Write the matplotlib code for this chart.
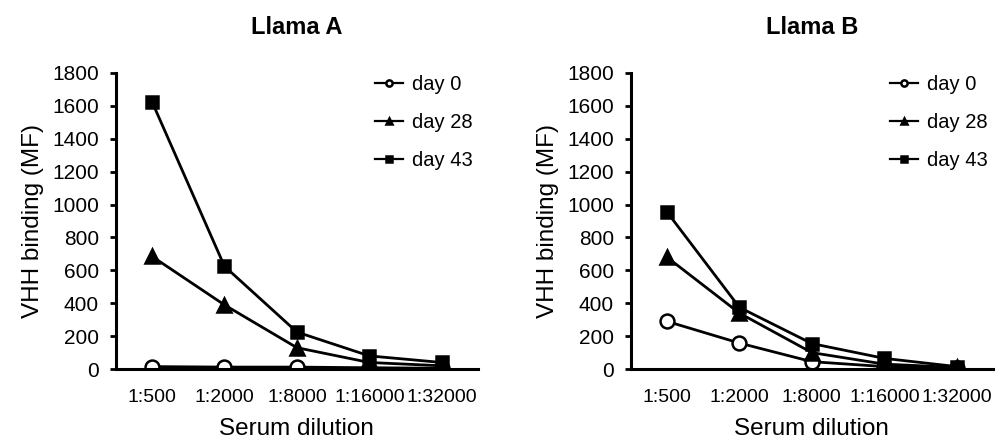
import numpy as np
import matplotlib.pyplot as plt

plt.rcParams['font.family'] = ['Liberation Sans', 'DejaVu Sans']

# Daten
dilutions = ['1:500', '1:2000', '1:8000', '1:16000', '1:32000']
days = ['day 0', 'day 28', 'day 43']

llama_a_day0 = [15, 12, 12, 8, 5]
llama_a_day28 = [685, 390, 130, 40, 20]
llama_a_day43 = [1625, 625, 225, 80, 40]

llama_b_day0 = [290, 158, 45, 15, 8]
llama_b_day28 = [680, 340, 100, 30, 10]
llama_b_day43 = [955, 375, 155, 65, 15]

markers = ['o', '^', 's']
faces = ['white', 'black', 'black']
sizes = [10, 10.5, 9]

fig = plt.figure(figsize=(9.98, 4.42), dpi=100)
ax1 = fig.add_axes([0.116, 0.165, 0.363, 0.67])
ax2 = fig.add_axes([0.632, 0.165, 0.363, 0.67])

x = np.arange(len(dilutions))

for ax, title, series in [(ax1, 'Llama A', [llama_a_day0, llama_a_day28, llama_a_day43]),
                          (ax2, 'Llama B', [llama_b_day0, llama_b_day28, llama_b_day43])]:
    for i in range(3):
        ax.plot(x, series[i], color='black', lw=2, marker=markers[i],
                markerfacecolor=faces[i], markeredgecolor='black',
                markeredgewidth=1.8, markersize=sizes[i], label=days[i])
    ax.set_xlim(-0.5, 4.5)
    ax.set_ylim(0, 1800)
    ax.set_yticks(np.arange(0, 1801, 200))
    ax.set_xticks(x)
    ax.set_xticklabels(dilutions, fontsize=14)
    ax.tick_params(axis='y', labelsize=15, width=2, length=4, pad=8)
    ax.tick_params(axis='x', length=0, pad=14)
    ax.spines['top'].set_visible(False)
    ax.spines['right'].set_visible(False)
    ax.spines['left'].set_linewidth(2.2)
    ax.spines['bottom'].set_linewidth(2.2)
    ax.set_ylabel('VHH binding (MF)', fontsize=17.5, labelpad=6)
    ax.set_xlabel('Serum dilution', fontsize=17.5, labelpad=9)
    ax.set_title(title, fontsize=17, fontweight='bold', pad=28)
    leg = ax.legend(loc='upper left', bbox_to_anchor=(0.665, 1.055), frameon=False,
                    fontsize=14.5, handlelength=1.4, handletextpad=0.45,
                    labelspacing=0.95, markerscale=0.45)
    for h in leg.get_lines():
        h.set_linewidth(1.6)

fig.savefig('out.png', dpi=100)
